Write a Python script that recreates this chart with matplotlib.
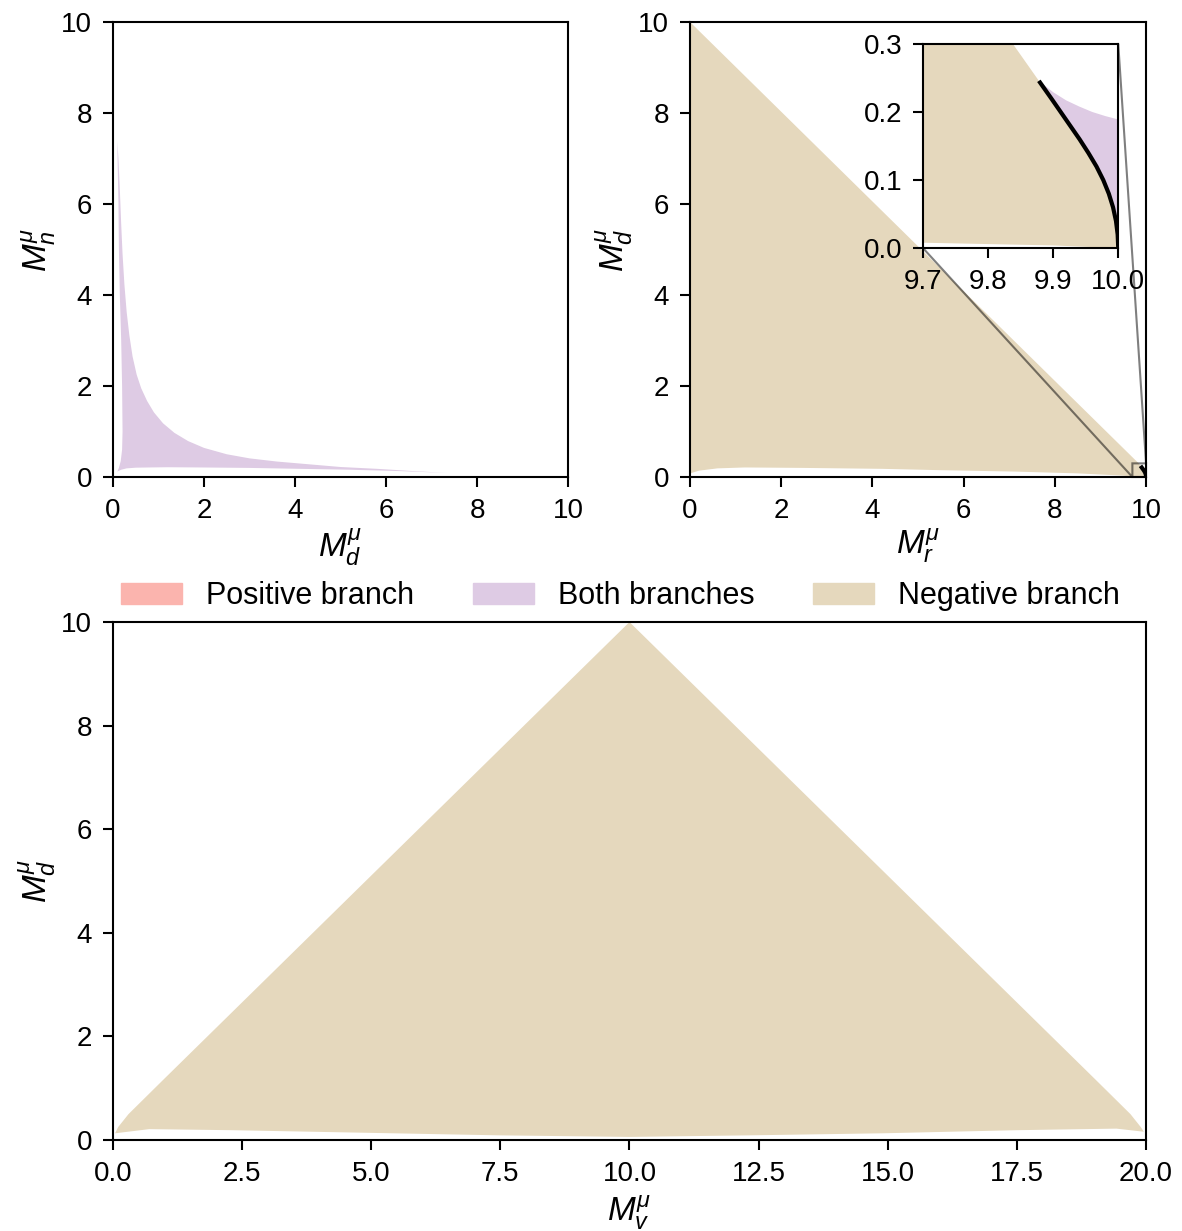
import numpy as np
import matplotlib
matplotlib.use("Agg")
import matplotlib.pyplot as plt
from matplotlib.patches import Patch

plt.rcParams["font.family"] = ["Liberation Sans", "DejaVu Sans"]
plt.rcParams["mathtext.fontset"] = "custom"
plt.rcParams["mathtext.rm"] = "Liberation Sans"
plt.rcParams["mathtext.it"] = "Liberation Sans:italic"
plt.rcParams["font.size"] = 20
plt.rcParams["axes.linewidth"] = 1.5
for a in ("xtick", "ytick"):
    plt.rcParams[a + ".major.size"] = 7
    plt.rcParams[a + ".major.width"] = 1.5
    plt.rcParams[a + ".major.pad"] = 8
    plt.rcParams[a + ".labelsize"] = 20

c_pos = "#fbb4ae"
c_both = "#decbe4"
c_neg = "#e5d8bd"

# --- top left: (M_d, M_n), both branches region
tl_left_x = [0.095, 0.13, 0.17, 0.20, 0.21, 0.20, 0.18, 0.15, 0.13, 0.12, 0.10]
tl_left_y = [0.12, 0.20, 0.35, 0.60, 1.0, 2.0, 3.0, 4.0, 5.0, 6.0, 7.0]
tl_up_x = [0.095, 0.12, 0.15, 0.18, 0.21, 0.25, 0.30, 0.36, 0.43, 0.52, 0.62, 0.75, 0.90,
           1.10, 1.35, 1.65, 2.0, 2.5, 3.0, 3.6, 4.3, 5.0, 5.8, 6.6, 7.33]
tl_up_y = [7.37, 7.0, 6.33, 5.56, 4.90, 4.24, 3.63, 3.11, 2.65, 2.25, 1.95, 1.67, 1.42,
           1.18, 0.97, 0.79, 0.64, 0.50, 0.41, 0.34, 0.28, 0.22, 0.18, 0.13, 0.09]
tl_low_x = [7.33, 6.31, 5.2, 4.11, 3.0, 1.91, 1.2, 0.81, 0.50, 0.30, 0.18, 0.095]
tl_low_y = [0.09, 0.13, 0.16, 0.18, 0.20, 0.21, 0.215, 0.21, 0.205, 0.19, 0.16, 0.12]

# --- top right: (M_r, M_d)
tr_up_x = [0.0, 9.838, 9.878]
tr_up_y = [10.0, 0.30, 0.2457]
# boundary between negative-only and both branches
bd_x = [9.878, 9.897, 9.9115, 9.926, 9.9405, 9.954, 9.9665, 9.977, 9.9855, 9.992, 9.9965,
        9.9991, 10.0]
bd_y = [0.2457, 0.22, 0.20, 0.18, 0.16, 0.14, 0.12, 0.10, 0.08, 0.06, 0.04, 0.02, 0.0]
both_up_x = [10.0, 9.98, 9.96, 9.94, 9.92, 9.90, 9.878]
both_up_y = [0.189, 0.194, 0.200, 0.208, 0.217, 0.229, 0.2457]
tr_low_x = [10.0, 9.9, 9.7, 9.5, 8.5, 7.1, 5.5, 4.2, 2.5, 1.2, 0.6, 0.2, 0.0]
tr_low_y = [0.0, 0.004, 0.008, 0.03, 0.08, 0.12, 0.15, 0.18, 0.20, 0.21, 0.19, 0.14, 0.08]

# --- bottom: (M_v, M_d)
bt_up_x = [0.04, 0.10, 0.30, 0.97, 10.0, 19.03, 19.70, 19.90, 19.96]
bt_up_y = [0.13, 0.25, 0.50, 1.16, 10.0, 1.16, 0.50, 0.25, 0.16]
bt_low_x = [19.96, 19.43, 17.5, 14.9, 12.3, 10.0, 7.5, 4.9, 2.3, 0.7, 0.04]
bt_low_y = [0.16, 0.22, 0.19, 0.13, 0.09, 0.06, 0.09, 0.14, 0.19, 0.21, 0.13]

fig = plt.figure(figsize=(11.82, 12.31), dpi=100)
ax1 = fig.add_axes([0.0956, 0.6125, 0.385, 0.3696])
ax2 = fig.add_axes([0.5838, 0.6125, 0.3858, 0.3696])
ax3 = fig.add_axes([0.0956, 0.0739, 0.8739, 0.4208])

# top left
ax1.fill(tl_left_x + tl_up_x + tl_low_x, tl_left_y + tl_up_y + tl_low_y,
         color=c_both, lw=0)
ax1.set_xlim(0, 10)
ax1.set_ylim(0, 10)
ax1.set_xlabel(r"$M_d^\mu$", fontsize=24, labelpad=2)
ax1.set_ylabel(r"$M_n^\mu$", fontsize=24, labelpad=2)


def draw_tr(ax, lw):
    ax.fill(tr_up_x + bd_x[1:] + tr_low_x[1:], tr_up_y + bd_y[1:] + tr_low_y[1:],
            color=c_neg, lw=0)
    ax.fill(bd_x + both_up_x, bd_y + both_up_y, color=c_both, lw=0)
    ax.plot(bd_x, bd_y, color="black", lw=lw, solid_capstyle="butt")


draw_tr(ax2, 3)
ax2.set_xlim(0, 10)
ax2.set_ylim(0, 10)
ax2.set_xlabel(r"$M_r^\mu$", fontsize=24, labelpad=2)
ax2.set_ylabel(r"$M_d^\mu$", fontsize=24, labelpad=2)

axins = ax2.inset_axes([0.511, 0.503, 0.428, 0.449])
draw_tr(axins, 3)
axins.set_xlim(9.7, 10.0)
axins.set_ylim(0, 0.3)
axins.set_xticks([9.7, 9.8, 9.9, 10.0])
axins.set_yticks([0.0, 0.1, 0.2, 0.3])
ax2.indicate_inset_zoom(axins, edgecolor="black", lw=1.5)

# bottom
ax3.fill(bt_up_x + bt_low_x, bt_up_y + bt_low_y, color=c_neg, lw=0)
ax3.set_xlim(0, 20)
ax3.set_ylim(0, 10)
ax3.set_xlabel(r"$M_v^\mu$", fontsize=24, labelpad=5)
ax3.set_ylabel(r"$M_d^\mu$", fontsize=24, labelpad=2)

handles = [Patch(color=c_pos), Patch(color=c_both), Patch(color=c_neg)]
labels = ["Positive branch", "Both branches", "Negative branch"]
fig.legend(handles, labels, loc="center", bbox_to_anchor=(0.525, 0.5155), ncol=3,
           frameon=False, fontsize=22, columnspacing=1.9, handlelength=2.0)

fig.savefig("out.png", dpi=100)
